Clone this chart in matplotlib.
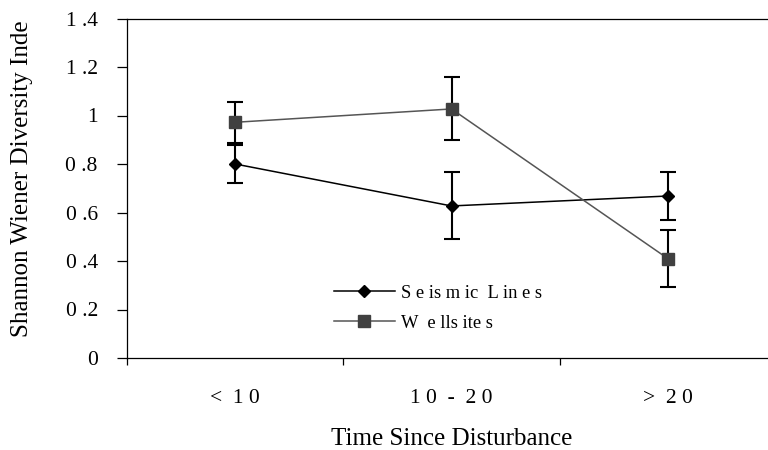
import matplotlib
matplotlib.use("Agg")
import matplotlib.pyplot as plt
from matplotlib.lines import Line2D
import numpy as np

plt.rcParams['font.family'] = ['Liberation Serif', 'DejaVu Serif']

categories = ["<  1 0", "1 0  -  2 0", ">  2 0"]
seismic = [0.80, 0.627, 0.668]
seismic_err = [0.08, 0.138, 0.10]
wellsites = [0.972, 1.027, 0.41]
wellsites_err = [0.085, 0.13, 0.117]
yticks = [0, 0.2, 0.4, 0.6, 0.8, 1.0, 1.2, 1.4]
ytick_labels = ["0", "0 .2", "0 .4", "0 .6", "0 .8", "1", "1 .2", "1 .4"]
series_names = ["S e is m ic  L in e s", "W  e lls ite s"]

fig = plt.figure(figsize=(7.68, 4.5), dpi=100)
ax = fig.add_axes([127/768, (450-358)/450, (776-127)/768, (358-18.5)/450])

x = np.arange(len(categories))

ax.errorbar(x, seismic, yerr=seismic_err, color='black', ecolor='black',
            elinewidth=1.5, capsize=6, capthick=1.5, lw=1.1,
            marker='D', markersize=6.5, mfc='black', mec='black', zorder=3)
ax.errorbar(x, wellsites, yerr=wellsites_err, color='#555555', ecolor='black',
            elinewidth=1.5, capsize=6, capthick=1.5, lw=1.1,
            marker='s', markersize=8, mfc='#404040', mec='#404040', zorder=3)

ax.set_xlim(-0.5, 2.5)
ax.set_ylim(0, 1.4)
ax.set_yticks(yticks)
ax.set_yticklabels(ytick_labels, fontsize=15.5)
ax.tick_params(axis='y', direction='out', length=7, width=0.9, pad=14)

ax.set_xticks(x)
ax.set_xticklabels(categories, fontsize=15.5)
ax.tick_params(axis='x', which='major', length=0, pad=22)
ax.set_xticks([-0.5, 0.5, 1.5, 2.5], minor=True)
ax.tick_params(axis='x', which='minor', direction='out', length=5, width=0.9)

for s in ax.spines.values():
    s.set_linewidth(0.9)

ax.set_xlabel("Time Since Disturbance", fontsize=18, labelpad=15)
ax.set_ylabel("Shannon Wiener Diversity Inde", fontsize=18)
ax.yaxis.set_label_coords(-0.145, 0.529)

handles = [
    Line2D([], [], color='black', lw=1.1, marker='D', markersize=6.5,
           mfc='black', mec='black'),
    Line2D([], [], color='#555555', lw=1.1, marker='s', markersize=8,
           mfc='#404040', mec='#404040'),
]
leg = ax.legend(handles, series_names, loc='upper left',
                bbox_to_anchor=(0.293, 0.265), frameon=False,
                fontsize=13.3, handlelength=3.3, handletextpad=0.35,
                labelspacing=0.7)

fig.savefig("out.png", dpi=100)
